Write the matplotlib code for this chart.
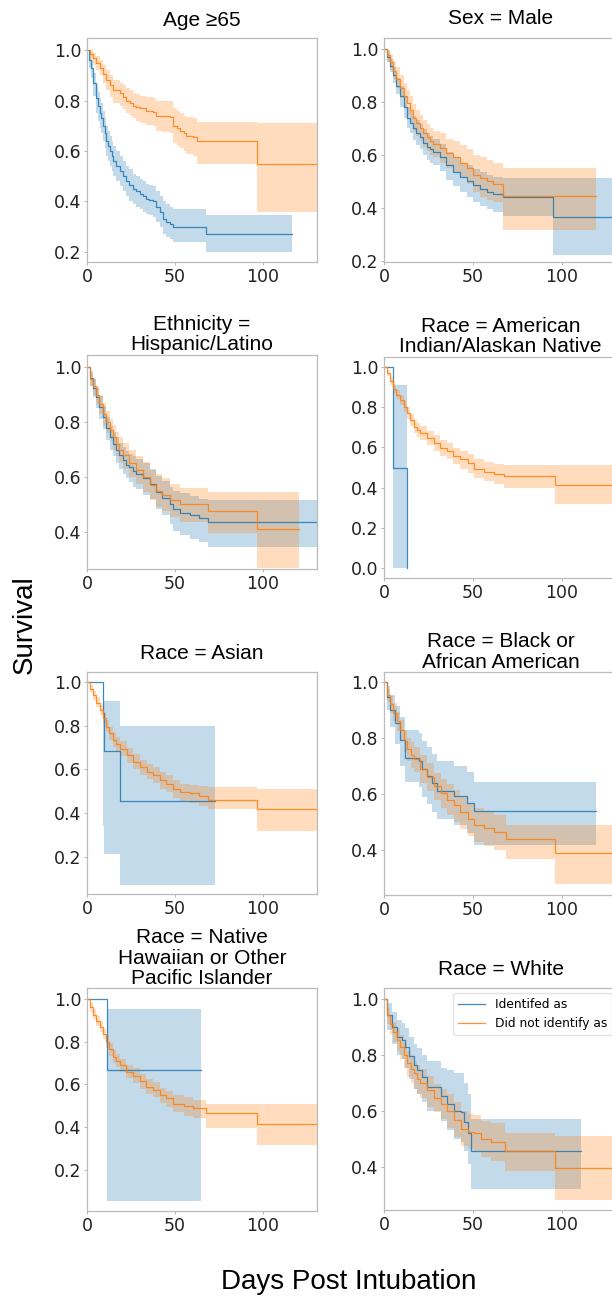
import matplotlib
matplotlib.use('Agg')
import matplotlib.pyplot as plt

# ---- data (days, survival, CI lower, CI upper) ----
# Age >= 65
age_id_t = [0, 1, 2, 3.4, 5, 6, 7.2, 8, 9, 10, 11, 12, 13, 14, 14.8, 16.5, 18.6, 20.5, 22.4, 24, 26.2, 28, 30, 32, 33.8, 35.5, 37.6, 39.5, 41.4, 43.3, 45.2, 47, 49, 68, 116.5]
age_id_s = [1.0, 0.96, 0.93, 0.87, 0.81, 0.78, 0.75, 0.73, 0.70, 0.67, 0.64, 0.62, 0.60, 0.58, 0.56, 0.54, 0.52, 0.50, 0.48, 0.465, 0.45, 0.44, 0.43, 0.42, 0.41, 0.405, 0.40, 0.38, 0.36, 0.33, 0.32, 0.31, 0.30, 0.27, 0.27]
age_id_lo = [1.0, 0.93, 0.89, 0.82, 0.75, 0.72, 0.69, 0.67, 0.64, 0.61, 0.58, 0.56, 0.54, 0.52, 0.50, 0.48, 0.46, 0.44, 0.42, 0.40, 0.39, 0.38, 0.37, 0.36, 0.35, 0.345, 0.34, 0.32, 0.30, 0.27, 0.26, 0.25, 0.24, 0.20, 0.20]
age_id_hi = [1.0, 0.985, 0.96, 0.91, 0.86, 0.835, 0.81, 0.79, 0.76, 0.73, 0.70, 0.68, 0.66, 0.64, 0.62, 0.60, 0.58, 0.56, 0.54, 0.53, 0.51, 0.50, 0.49, 0.48, 0.47, 0.465, 0.46, 0.44, 0.42, 0.40, 0.39, 0.38, 0.37, 0.345, 0.345]
age_no_t = [0, 1.5, 3.4, 5.3, 7.2, 9, 11, 13, 14.8, 18.6, 20.5, 22.4, 24.3, 26.2, 28, 30, 33.8, 37.6, 39.5, 43, 47, 49, 51, 53, 55, 56.6, 60.5, 62.4, 96.6, 135]
age_no_s = [1.0, 0.985, 0.967, 0.95, 0.93, 0.905, 0.88, 0.86, 0.84, 0.83, 0.815, 0.80, 0.79, 0.78, 0.775, 0.77, 0.76, 0.755, 0.74, 0.74, 0.735, 0.70, 0.69, 0.68, 0.67, 0.66, 0.655, 0.64, 0.55, 0.55]
age_no_lo = [1.0, 0.96, 0.94, 0.92, 0.90, 0.87, 0.84, 0.815, 0.79, 0.78, 0.765, 0.75, 0.74, 0.73, 0.72, 0.71, 0.705, 0.70, 0.68, 0.675, 0.67, 0.63, 0.62, 0.61, 0.60, 0.59, 0.58, 0.55, 0.36, 0.36]
age_no_hi = [1.0, 1.0, 0.99, 0.975, 0.96, 0.94, 0.92, 0.90, 0.88, 0.87, 0.86, 0.85, 0.84, 0.83, 0.825, 0.82, 0.815, 0.81, 0.80, 0.80, 0.80, 0.77, 0.76, 0.75, 0.74, 0.735, 0.73, 0.715, 0.71, 0.71]

# Sex = Male
sex_id_t = [0, 1.5, 3.4, 5, 7, 9, 11, 12.8, 14.5, 16.5, 18, 20, 22, 24, 26, 27.8, 31.5, 35, 39, 42.8, 46.5, 50, 54, 57.8, 61.5, 67, 95, 135]
sex_id_s = [1.0, 0.97, 0.935, 0.90, 0.86, 0.82, 0.78, 0.74, 0.72, 0.70, 0.68, 0.665, 0.645, 0.63, 0.62, 0.61, 0.59, 0.56, 0.535, 0.515, 0.50, 0.485, 0.47, 0.46, 0.45, 0.44, 0.365, 0.365]
sex_id_lo = [1.0, 0.95, 0.91, 0.87, 0.83, 0.78, 0.74, 0.70, 0.68, 0.655, 0.635, 0.62, 0.60, 0.58, 0.57, 0.56, 0.54, 0.505, 0.48, 0.46, 0.44, 0.42, 0.405, 0.395, 0.385, 0.37, 0.22, 0.22]
sex_id_hi = [1.0, 0.99, 0.96, 0.93, 0.89, 0.86, 0.82, 0.78, 0.765, 0.745, 0.73, 0.715, 0.695, 0.68, 0.67, 0.66, 0.64, 0.61, 0.59, 0.57, 0.56, 0.545, 0.535, 0.525, 0.515, 0.51, 0.51, 0.51]
sex_no_t = [0, 1.5, 3.4, 5.2, 7, 9, 11, 12.8, 14.5, 16.5, 18.2, 20, 22, 24, 26, 27.8, 31.5, 35, 39, 42.8, 46.5, 50, 54, 57.8, 61.5, 67, 119]
sex_no_s = [1.0, 0.975, 0.95, 0.915, 0.885, 0.85, 0.82, 0.795, 0.77, 0.74, 0.72, 0.70, 0.68, 0.665, 0.65, 0.64, 0.625, 0.605, 0.59, 0.57, 0.55, 0.525, 0.51, 0.50, 0.49, 0.445, 0.445]
sex_no_lo = [1.0, 0.95, 0.92, 0.885, 0.85, 0.815, 0.78, 0.75, 0.72, 0.69, 0.67, 0.65, 0.63, 0.615, 0.60, 0.59, 0.57, 0.55, 0.53, 0.51, 0.49, 0.46, 0.44, 0.43, 0.42, 0.315, 0.315]
sex_no_hi = [1.0, 0.995, 0.98, 0.955, 0.93, 0.90, 0.87, 0.845, 0.82, 0.79, 0.77, 0.75, 0.73, 0.715, 0.70, 0.69, 0.68, 0.66, 0.65, 0.635, 0.62, 0.60, 0.59, 0.58, 0.57, 0.55, 0.55]

# Ethnicity = Hispanic/Latino
his_id_t = [0, 1.5, 3.5, 5.3, 7, 9, 11, 13, 15, 16.7, 18.5, 20.5, 22, 24, 26, 28, 32, 35.7, 39.5, 43, 47, 49, 52.8, 58.5, 64, 69, 135]
his_id_s = [1.0, 0.96, 0.925, 0.89, 0.855, 0.82, 0.78, 0.745, 0.72, 0.70, 0.68, 0.66, 0.645, 0.635, 0.62, 0.61, 0.595, 0.575, 0.545, 0.525, 0.50, 0.485, 0.47, 0.46, 0.45, 0.435, 0.435]
his_id_lo = [1.0, 0.93, 0.89, 0.85, 0.81, 0.775, 0.735, 0.70, 0.675, 0.65, 0.63, 0.61, 0.595, 0.58, 0.565, 0.555, 0.535, 0.52, 0.485, 0.46, 0.43, 0.405, 0.39, 0.375, 0.365, 0.345, 0.345]
his_id_hi = [1.0, 0.985, 0.955, 0.925, 0.895, 0.86, 0.82, 0.785, 0.765, 0.745, 0.725, 0.71, 0.695, 0.685, 0.675, 0.665, 0.65, 0.63, 0.605, 0.585, 0.565, 0.55, 0.54, 0.53, 0.52, 0.515, 0.515]
his_no_t = [0, 1.5, 3.5, 5.3, 7, 9, 11, 13, 15, 16.7, 18.5, 20.5, 24, 28, 32, 35.7, 39.5, 43, 47, 52.8, 69, 97, 121]
his_no_s = [1.0, 0.958, 0.93, 0.90, 0.865, 0.83, 0.80, 0.77, 0.745, 0.72, 0.70, 0.68, 0.65, 0.625, 0.60, 0.57, 0.55, 0.535, 0.515, 0.50, 0.475, 0.41, 0.41]
his_no_lo = [1.0, 0.93, 0.90, 0.865, 0.83, 0.79, 0.76, 0.73, 0.70, 0.675, 0.655, 0.63, 0.60, 0.575, 0.545, 0.515, 0.49, 0.475, 0.455, 0.435, 0.395, 0.27, 0.27]
his_no_hi = [1.0, 0.98, 0.955, 0.93, 0.90, 0.87, 0.84, 0.81, 0.79, 0.765, 0.745, 0.725, 0.70, 0.675, 0.655, 0.625, 0.61, 0.595, 0.575, 0.56, 0.545, 0.545, 0.545]

# Race = American Indian/Alaskan Native
ind_id_t = [0, 4.9, 12.8]
ind_id_s = [1.0, 0.5, 0.0]
ind_id_lo = [1.0, 0.0, 0.0]
ind_id_hi = [1.0, 0.91, 0.0]
ind_no_t = [0, 1.5, 3.4, 5.3, 7, 9, 11, 12.8, 14.7, 16.6, 18.5, 20.4, 24, 28, 31.7, 35.5, 39, 43, 47, 50.6, 56, 62, 67.5, 96.2, 135]
ind_no_s = [1.0, 0.97, 0.93, 0.89, 0.86, 0.835, 0.80, 0.77, 0.735, 0.70, 0.685, 0.67, 0.645, 0.62, 0.595, 0.58, 0.555, 0.54, 0.52, 0.495, 0.48, 0.47, 0.46, 0.415, 0.415]
ind_no_lo = [1.0, 0.955, 0.91, 0.87, 0.84, 0.81, 0.775, 0.74, 0.705, 0.67, 0.65, 0.635, 0.61, 0.58, 0.555, 0.54, 0.515, 0.495, 0.475, 0.45, 0.435, 0.42, 0.40, 0.32, 0.32]
ind_no_hi = [1.0, 0.985, 0.95, 0.915, 0.885, 0.86, 0.83, 0.80, 0.765, 0.735, 0.72, 0.705, 0.68, 0.66, 0.635, 0.62, 0.595, 0.58, 0.565, 0.54, 0.525, 0.515, 0.51, 0.51, 0.51]

# Race = Asian
asi_id_t = [0, 9.1, 9.7, 18.7, 73]
asi_id_s = [1.0, 0.857, 0.686, 0.457, 0.457]
asi_id_lo = [1.0, 0.34, 0.215, 0.07, 0.07]
asi_id_hi = [1.0, 0.985, 0.915, 0.80, 0.80]
asi_no_t = [0, 1.5, 3.4, 5.3, 7.2, 9, 11, 12.8, 14.8, 16.7, 18.7, 22.5, 26.3, 30, 34, 37.7, 41.5, 45, 49, 53, 58.7, 64, 69, 96.8, 135]
asi_no_s = [1.0, 0.97, 0.94, 0.905, 0.87, 0.835, 0.795, 0.765, 0.735, 0.715, 0.695, 0.665, 0.635, 0.61, 0.59, 0.575, 0.55, 0.535, 0.51, 0.495, 0.49, 0.48, 0.46, 0.42, 0.42]
asi_no_lo = [1.0, 0.955, 0.92, 0.885, 0.85, 0.81, 0.77, 0.735, 0.705, 0.685, 0.66, 0.63, 0.60, 0.575, 0.555, 0.54, 0.51, 0.495, 0.47, 0.455, 0.445, 0.435, 0.42, 0.32, 0.32]
asi_no_hi = [1.0, 0.985, 0.96, 0.93, 0.895, 0.865, 0.825, 0.795, 0.77, 0.75, 0.73, 0.70, 0.67, 0.645, 0.625, 0.61, 0.59, 0.575, 0.55, 0.535, 0.53, 0.525, 0.52, 0.51, 0.51]

# Race = Black or African American
blk_id_t = [0, 1.5, 3.4, 6.2, 9, 11.9, 19.4, 21.3, 24, 27, 29.8, 39.2, 46.8, 50.6, 119.4]
blk_id_s = [1.0, 0.947, 0.90, 0.853, 0.795, 0.73, 0.72, 0.69, 0.665, 0.64, 0.61, 0.595, 0.57, 0.54, 0.54]
blk_id_lo = [1.0, 0.90, 0.84, 0.78, 0.70, 0.645, 0.625, 0.59, 0.565, 0.535, 0.51, 0.49, 0.46, 0.42, 0.42]
blk_id_hi = [1.0, 0.985, 0.955, 0.915, 0.875, 0.83, 0.82, 0.79, 0.77, 0.745, 0.72, 0.70, 0.68, 0.645, 0.645]
blk_no_t = [0, 1.5, 3.4, 5.3, 7.2, 9, 11, 13, 15, 16.8, 20.5, 24, 28, 32, 35.7, 39.5, 43, 47, 50.6, 56, 62, 68.5, 96.2, 135]
blk_no_s = [1.0, 0.953, 0.92, 0.89, 0.86, 0.83, 0.79, 0.76, 0.74, 0.725, 0.69, 0.66, 0.63, 0.605, 0.58, 0.56, 0.535, 0.51, 0.49, 0.48, 0.465, 0.44, 0.39, 0.39]
blk_no_lo = [1.0, 0.93, 0.89, 0.86, 0.825, 0.79, 0.75, 0.72, 0.695, 0.68, 0.64, 0.61, 0.58, 0.55, 0.525, 0.50, 0.475, 0.45, 0.43, 0.415, 0.40, 0.37, 0.28, 0.28]
blk_no_hi = [1.0, 0.975, 0.95, 0.925, 0.895, 0.865, 0.83, 0.80, 0.785, 0.77, 0.74, 0.71, 0.675, 0.655, 0.635, 0.615, 0.59, 0.565, 0.55, 0.54, 0.525, 0.49, 0.49, 0.49]

# Race = Native Hawaiian or Other Pacific Islander
haw_id_t = [0, 11.6, 65]
haw_id_s = [1.0, 0.667, 0.667]
haw_id_lo = [1.0, 0.056, 0.056]
haw_id_hi = [1.0, 0.953, 0.953]
haw_no_t = [0, 1.5, 3.4, 5.3, 7.2, 9, 11, 12.8, 14.8, 16.7, 18.6, 22.4, 26.2, 30, 33.8, 37.6, 41.4, 45.2, 49, 55, 60.5, 68, 96.6, 135]
haw_no_s = [1.0, 0.96, 0.925, 0.895, 0.87, 0.835, 0.80, 0.765, 0.73, 0.71, 0.69, 0.66, 0.64, 0.615, 0.59, 0.575, 0.55, 0.535, 0.51, 0.50, 0.49, 0.465, 0.415, 0.415]
haw_no_lo = [1.0, 0.94, 0.905, 0.875, 0.845, 0.81, 0.77, 0.735, 0.70, 0.68, 0.66, 0.63, 0.605, 0.58, 0.555, 0.54, 0.515, 0.495, 0.47, 0.455, 0.445, 0.395, 0.32, 0.32]
haw_no_hi = [1.0, 0.98, 0.95, 0.92, 0.895, 0.86, 0.83, 0.795, 0.76, 0.74, 0.72, 0.69, 0.675, 0.65, 0.625, 0.61, 0.585, 0.57, 0.55, 0.54, 0.53, 0.51, 0.51, 0.51]

# Race = White
wht_id_t = [0, 1.5, 4.3, 7.2, 10, 12, 13.8, 16.7, 18.6, 21.4, 24.2, 31.8, 35.6, 39.4, 43.2, 45, 47, 49, 111]
wht_id_s = [1.0, 0.944, 0.90, 0.865, 0.855, 0.83, 0.795, 0.765, 0.745, 0.72, 0.685, 0.655, 0.625, 0.60, 0.595, 0.56, 0.52, 0.455, 0.455]
wht_id_lo = [1.0, 0.89, 0.84, 0.80, 0.785, 0.755, 0.715, 0.68, 0.66, 0.63, 0.60, 0.565, 0.53, 0.50, 0.49, 0.455, 0.41, 0.32, 0.32]
wht_id_hi = [1.0, 0.985, 0.955, 0.925, 0.915, 0.895, 0.865, 0.84, 0.825, 0.80, 0.78, 0.755, 0.745, 0.735, 0.735, 0.70, 0.66, 0.57, 0.57]
wht_no_t = [0, 1.5, 3.4, 5.3, 7.2, 9, 11, 13, 15, 16.7, 18.6, 20.5, 24.2, 28, 31.8, 35.6, 39.4, 43.2, 47, 50.8, 54.6, 60, 68, 96.2, 135]
wht_no_s = [1.0, 0.944, 0.91, 0.884, 0.855, 0.83, 0.80, 0.77, 0.75, 0.734, 0.715, 0.70, 0.675, 0.645, 0.626, 0.60, 0.566, 0.536, 0.525, 0.52, 0.50, 0.49, 0.455, 0.395, 0.395]
wht_no_lo = [1.0, 0.91, 0.875, 0.845, 0.815, 0.785, 0.755, 0.72, 0.70, 0.68, 0.66, 0.645, 0.615, 0.595, 0.57, 0.54, 0.505, 0.475, 0.465, 0.455, 0.435, 0.42, 0.385, 0.28, 0.28]
wht_no_hi = [1.0, 0.97, 0.945, 0.92, 0.895, 0.87, 0.845, 0.815, 0.795, 0.78, 0.765, 0.75, 0.725, 0.695, 0.68, 0.66, 0.63, 0.60, 0.59, 0.585, 0.565, 0.555, 0.52, 0.51, 0.51]

titles = ['Age \u226565', 'Sex = Male',
          'Ethnicity =\nHispanic/Latino', 'Race = American\nIndian/Alaskan Native',
          'Race = Asian', 'Race = Black or\nAfrican American',
          'Race = Native\nHawaiian or Other\nPacific Islander', 'Race = White']
ylims = [(0.16, 1.048), (0.195, 1.04), (0.265, 1.044), (-0.05, 1.05),
         (0.03, 1.046), (0.24, 1.036), (0.01, 1.05), (0.245, 1.04)]
legend_labels = ['Identifed as', 'Did not identify as']

curves = [
    ((age_id_t, age_id_s, age_id_lo, age_id_hi), (age_no_t, age_no_s, age_no_lo, age_no_hi)),
    ((sex_id_t, sex_id_s, sex_id_lo, sex_id_hi), (sex_no_t, sex_no_s, sex_no_lo, sex_no_hi)),
    ((his_id_t, his_id_s, his_id_lo, his_id_hi), (his_no_t, his_no_s, his_no_lo, his_no_hi)),
    ((ind_id_t, ind_id_s, ind_id_lo, ind_id_hi), (ind_no_t, ind_no_s, ind_no_lo, ind_no_hi)),
    ((asi_id_t, asi_id_s, asi_id_lo, asi_id_hi), (asi_no_t, asi_no_s, asi_no_lo, asi_no_hi)),
    ((blk_id_t, blk_id_s, blk_id_lo, blk_id_hi), (blk_no_t, blk_no_s, blk_no_lo, blk_no_hi)),
    ((haw_id_t, haw_id_s, haw_id_lo, haw_id_hi), (haw_no_t, haw_no_s, haw_no_lo, haw_no_hi)),
    ((wht_id_t, wht_id_s, wht_id_lo, wht_id_hi), (wht_no_t, wht_no_s, wht_no_lo, wht_no_hi)),
]

# ---- layout in pixels (top, bottom) for each panel ----
W, H = 612, 1299
col_x = [(87, 230), (384, 233)]
rows = [((38, 262), (38, 262)),
        ((355, 569), (357, 578)),
        ((672, 894), (672, 895)),
        ((988, 1211), (988, 1210))]
title_pad = [8.5, 10, 3.5, 3.5, 9.5, 3, 2.5, 9.5]

TITLE_FONT = 'Liberation Sans'
colors = ['#1f77b4', '#ff7f0e']

fig = plt.figure(figsize=(W / 100, H / 100), dpi=100)

for i in range(8):
    r, c = divmod(i, 2)
    top, bot = rows[r][c]
    x0, w = col_x[c]
    ax = fig.add_axes([x0 / W, 1 - bot / H, w / W, (bot - top) / H])
    for k, (t, s, lo, hi) in enumerate(curves[i]):
        ax.fill_between(t, lo, hi, step='post', color=colors[k], alpha=0.27, lw=0)
        ax.step(t, s, where='post', color=colors[k], lw=0.9, alpha=0.85, label=legend_labels[k])
    ax.set_xlim(0, 131)
    ax.set_ylim(*ylims[i])
    ax.set_xticks([0, 50, 100])
    ax.tick_params(labelsize=12.5, length=2.5, width=0.6, pad=1.5, color='#aaaaaa',
                   labelcolor='#222222')
    for sp in ax.spines.values():
        sp.set_color('#bbbbbb')
        sp.set_linewidth(0.9)
    ax.set_title(titles[i], fontsize=15, family=TITLE_FONT, pad=title_pad[i], linespacing=1.1)
    if i == 7:
        leg = ax.legend(loc='upper right', fontsize=8.8, handlelength=2.2, borderaxespad=0.4)
        leg.get_frame().set_edgecolor('#dddddd')

fig.text(25 / W, 1 - 625 / H, 'Survival', rotation=90, ha='center', va='center',
         fontsize=20, family=TITLE_FONT)
fig.text(349 / W, 1 - 1282 / H, 'Days Post Intubation', ha='center', va='center',
         fontsize=20, family=TITLE_FONT)

fig.savefig('out.png', dpi=100)
